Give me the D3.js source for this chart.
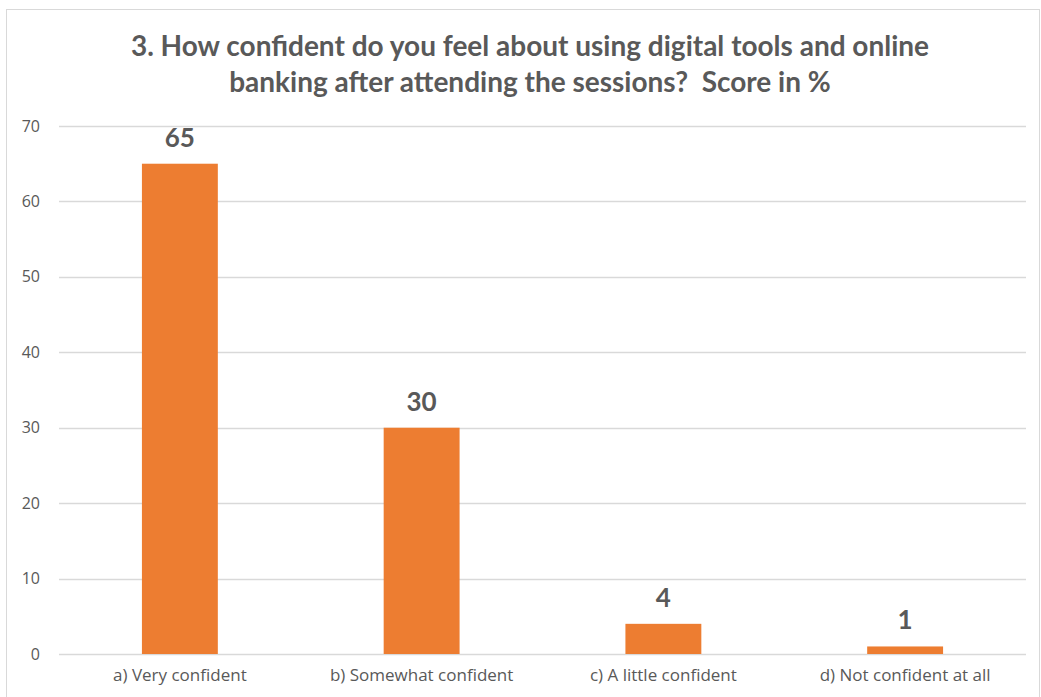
<!doctype html>
<html lang="en">
<head>
<meta charset="utf-8">
<script src="https://d3js.org/d3.v7.min.js"></script>
<title>Confidence chart</title>
<style>
  body { margin: 0; background: #fff; }
  text { font-family: Lato, "Open Sans", sans-serif; white-space: pre; }
</style>
</head>
<body>
<svg id="chart"></svg>
<script>
  const categories = ["a) Very confident", "b) Somewhat confident", "c) A little confident", "d) Not confident at all"];
  const scores = [65, 30, 4, 1];
  const yTicks = [0, 10, 20, 30, 40, 50, 60, 70];
  const titleLines = ["3. How confident do you feel about using digital tools and online",
                      "banking after attending the sessions?  Score in %"];

  const width = 1041, height = 697;
  const margin = { top: 126, right: 15, bottom: 43, left: 59 };
  const plotW = width - margin.left - margin.right;
  const plotH = height - margin.top - margin.bottom;

  const svg = d3.select("#chart").attr("width", width).attr("height", height);

  // chart frame
  svg.append("rect")
    .attr("x", 6.5).attr("y", 9.5)
    .attr("width", 1033).attr("height", 700)
    .attr("fill", "none").attr("stroke", "#d9d9d9");

  // title
  svg.append("g").selectAll("text")
    .data(titleLines)
    .join("text")
    .attr("x", 530)
    .attr("y", (d, i) => 56 + i * 36)
    .attr("text-anchor", "middle")
    .attr("font-size", 28)
    .attr("font-weight", "bold")
    .attr("fill", "#595959")
    .text(d => d);

  const x = d3.scaleBand().domain(categories).range([0, plotW]).paddingInner(0.686).paddingOuter(0.343);
  const y = d3.scaleLinear().domain([0, 70]).range([plotH, 0]);

  const g = svg.append("g").attr("transform", `translate(${margin.left},${margin.top})`);

  // gridlines
  g.append("g").selectAll("line")
    .data(yTicks)
    .join("line")
    .attr("x1", 0).attr("x2", plotW)
    .attr("y1", d => Math.round(y(d)) + 0.5).attr("y2", d => Math.round(y(d)) + 0.5)
    .attr("stroke", "#d9d9d9").attr("stroke-width", 1.3);

  // y axis labels
  const yAxis = g.append("g")
    .call(d3.axisLeft(y).tickValues(yTicks).tickSize(0).tickPadding(19));
  yAxis.select(".domain").remove();
  yAxis.selectAll("text").attr("font-size", 16).attr("fill", "#595959")
    .style("font-family", "'Open Sans', sans-serif");

  // x axis labels
  const xAxis = g.append("g")
    .attr("transform", `translate(0,${plotH})`)
    .call(d3.axisBottom(x).tickSize(0).tickPadding(15));
  xAxis.select(".domain").remove();
  xAxis.selectAll("text").attr("font-size", 17).attr("fill", "#595959")
    .style("font-family", "'Open Sans', sans-serif");

  // bars
  g.append("g").selectAll("rect")
    .data(scores)
    .join("rect")
    .attr("x", (d, i) => x(categories[i]))
    .attr("y", d => y(d))
    .attr("width", x.bandwidth())
    .attr("height", d => plotH - y(d))
    .attr("fill", "#ed7d31");

  // data labels
  g.append("g").selectAll("text")
    .data(scores)
    .join("text")
    .attr("x", (d, i) => x(categories[i]) + x.bandwidth() / 2)
    .attr("y", d => y(d) - 17)
    .attr("text-anchor", "middle")
    .attr("font-size", 26)
    .attr("font-weight", "bold")
    .attr("fill", "#595959")
    .text(d => d);
</script>
</body>
</html>
